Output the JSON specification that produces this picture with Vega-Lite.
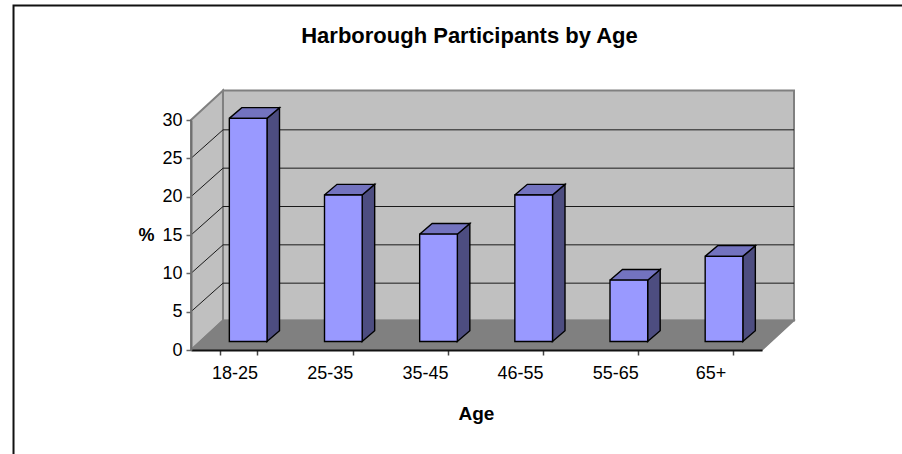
{
"$schema":"https://vega.github.io/schema/vega-lite/v6.json",
"width":571,"height":230,
"padding":{"left":191,"top":120,"right":140,"bottom":104},
"autosize":{"type":"none"},
"background":"white",
"view":{"stroke":null},
"config":{"font":"Liberation Sans","axisY":{"tickCount":7}},
"title":{"text":"Harborough Participants by Age","font":"Liberation Sans","fontSize":22,"fontWeight":"bold","color":"black","anchor":"middle","frame":"group","dx":-7,"offset":-43},
"datasets":{
"bars":[{"age":"18-25","pct":29.1},{"age":"25-35","pct":19.1},{"age":"35-45","pct":14},{"age":"46-55","pct":19.1},{"age":"55-65","pct":8},{"age":"65+","pct":11.1}],
"ticks":[{"v":5},{"v":10},{"v":15},{"v":20},{"v":25}],
"frame":[
{"face":"left","o":0,"x":0,"y":0},{"face":"left","o":1,"x":0.336,"y":3.85},{"face":"left","o":2,"x":0.336,"y":33.85},{"face":"left","o":3,"x":0,"y":30},{"face":"left","o":4,"x":0,"y":0},
{"face":"floor","o":0,"x":0,"y":0},{"face":"floor","o":1,"x":6,"y":0},{"face":"floor","o":2,"x":6.336,"y":3.85},{"face":"floor","o":3,"x":0.336,"y":3.85},{"face":"floor","o":4,"x":0,"y":0}
]},
"resolve":{"scale":{"x":"independent"},"axis":{"x":"independent"}},
"layer":[
{"layer":[
{"data":{"values":[{}]},"mark":{"type":"rect","fill":"white","stroke":"#111111","strokeWidth":2},
 "encoding":{"x":{"datum":-1.865,"type":"quantitative","scale":{"domain":[0,6],"nice":false,"zero":false},"axis":null},"x2":{"datum":9},"y":{"datum":44.93,"type":"quantitative","title":"%","scale":{"domain":[0,30],"nice":false},"axis":{"orient":"left","title":"%","titleAngle":0,"titleFontWeight":"bold","titleFontSize":18,"titleColor":"black","titleX":-45,"titleY":115,"titleAlign":"center","titleBaseline":"middle","values":[0,5,10,15,20,25,30],"labelFontSize":18,"labelColor":"black","labelPadding":4,"tickColor":"#666666","tickSize":5,"tickWidth":1.5,"domainColor":"#707070","domainWidth":2,"grid":false,"zindex":1}},"y2":{"datum":-20}}},
{"data":{"values":[{}]},"mark":{"type":"rect","fill":"#C0C0C0","stroke":"#808080","strokeWidth":2,"xOffset":32,"x2Offset":32,"yOffset":-29.5,"y2Offset":-29.5},
 "encoding":{"x":{"datum":0,"type":"quantitative","axis":null},"x2":{"datum":6},"y":{"datum":0,"type":"quantitative","title":"%"},"y2":{"datum":30}}},
{"data":{"name":"frame"},"transform":[{"filter":"datum.face==='left'"}],"mark":{"type":"line","fill":"#C0C0C0","stroke":"#808080","strokeWidth":2},
 "encoding":{"x":{"field":"x","type":"quantitative","axis":null},"y":{"field":"y","type":"quantitative","title":"%"},"order":{"field":"o"}}},
{"data":{"name":"frame"},"transform":[{"filter":"datum.face==='floor'"}],"mark":{"type":"line","fill":"#808080","stroke":"#808080","strokeWidth":1.5},
 "encoding":{"x":{"field":"x","type":"quantitative","axis":null},"y":{"field":"y","type":"quantitative","title":"%"},"order":{"field":"o"}}},
{"data":{"name":"ticks"},"mark":{"type":"rule","stroke":"#1a1a1a","strokeWidth":1,"xOffset":32,"x2Offset":32,"yOffset":-28.5},
 "encoding":{"x":{"datum":0,"type":"quantitative","axis":null},"x2":{"datum":6},"y":{"field":"v","type":"quantitative","title":"%"}}},
{"data":{"name":"ticks"},"mark":{"type":"rule","stroke":"#1a1a1a","strokeWidth":1,"x2Offset":32,"y2Offset":-28.5},
 "encoding":{"x":{"datum":0,"type":"quantitative","axis":null},"x2":{"datum":0},"y":{"field":"v","type":"quantitative","title":"%"},"y2":{"field":"v"}}},
{"data":{"name":"bars"},"transform":[{"window":[{"op":"row_number","as":"n"}]},{"calculate":"[0,1,2,3,4]","as":"o"},{"flatten":["o"]},
  {"calculate":"datum.n-1+[0.798,0.93,0.93,0.798,0.798][datum.o]","as":"vx"},
  {"calculate":"1.109+[datum.pct,datum.pct+1.4,1.4,0,datum.pct][datum.o]","as":"vy"}],
 "mark":{"type":"line","fill":"#4D4D80","stroke":"black","strokeWidth":1.4},
 "encoding":{"detail":{"field":"age"},"order":{"field":"o"},"x":{"field":"vx","type":"quantitative","axis":null},"y":{"field":"vy","type":"quantitative","title":"%"}}},
{"data":{"name":"bars"},"transform":[{"window":[{"op":"row_number","as":"n"}]},{"calculate":"[0,1,2,3,4]","as":"o"},{"flatten":["o"]},
  {"calculate":"datum.n-1+[0.402,0.798,0.93,0.534,0.402][datum.o]","as":"vx"},
  {"calculate":"1.109+datum.pct+[0,0,1.4,1.4,0][datum.o]","as":"vy"}],
 "mark":{"type":"line","fill":"#7373BF","stroke":"black","strokeWidth":1.4},
 "encoding":{"detail":{"field":"age"},"order":{"field":"o"},"x":{"field":"vx","type":"quantitative","axis":null},"y":{"field":"vy","type":"quantitative","title":"%"}}}
]},
{"data":{"name":"bars"},"mark":{"type":"bar","fill":"#9999FF","stroke":"black","strokeWidth":1.4,"xOffset":9.6,"x2Offset":9.6,"yOffset":-8.5,"y2Offset":-8.5},
 "encoding":{"x":{"field":"age","type":"nominal","sort":null,"scale":{"paddingInner":0.604,"paddingOuter":0.302},
   "axis":{"title":"Age","titleFontWeight":"bold","titleFontSize":19,"titleColor":"black","titleX":285,"titleY":54,"labelAngle":0,"labelFontSize":18,"labelColor":"black","labelPadding":9,"labelOffset":-4,"tickBand":"extent","tickColor":"#444444","tickSize":5,"tickWidth":1.5,"domainColor":"#111111","domainWidth":2,"zindex":1}},
  "y":{"field":"pct","type":"quantitative","title":"%"}}}
]}
